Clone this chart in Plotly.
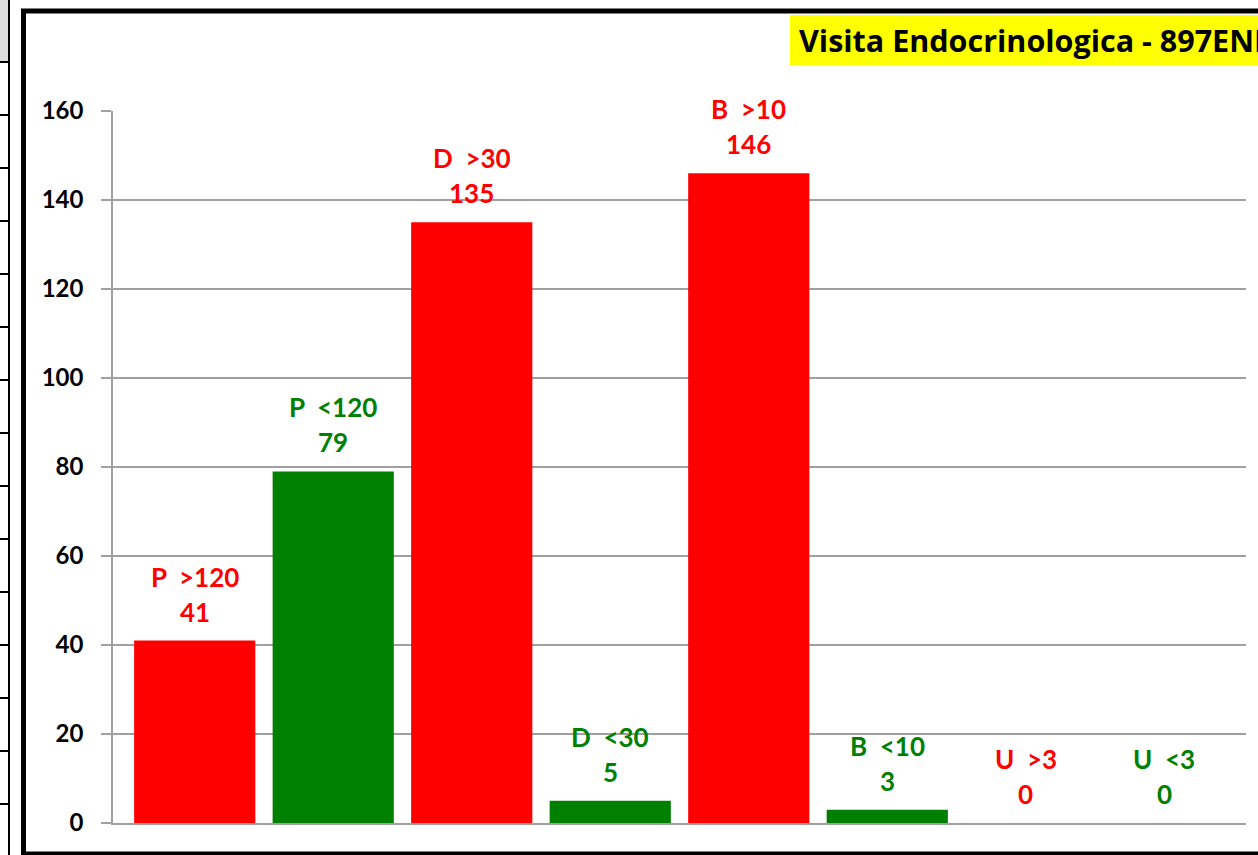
import plotly.graph_objects as go

categories = ["P  >120", "P  <120", "D  >30", "D  <30", "B  >10", "B  <10", "U  >3", "U  <3"]
values = [41, 79, 135, 5, 146, 3, 0, 0]
colors = ["#FF0000", "#008000", "#FF0000", "#008000", "#FF0000", "#008000", "#FF0000", "#008000"]
y_ticks = [0, 20, 40, 60, 80, 100, 120, 140, 160]
title_text = "Visita Endocrinologica - 897ENDO"

OFF = 0  # page body margin removed via post_script
W, H = 1258, 855
L, R, T, B = 113, 12, 111, 32
PW, PH = W - L - R, H - T - B
FONT = "Lato"

def px(xp):
    return (xp - OFF - L) / PW

def py(yp):
    return 1 - (yp - OFF - T) / PH

xs = list(range(len(categories)))

fig = go.Figure(go.Bar(x=xs, y=values, marker=dict(color=colors, line=dict(width=0)),
                       hoverinfo="skip"))

annotations = []
for i, (c, v, col) in enumerate(zip(categories, values, colors)):
    annotations.append(dict(x=i, y=v, xref="x", yref="y", text=f"<b>{v}</b>", showarrow=False,
                            yshift=29, yanchor="middle", font=dict(family=FONT, size=26, color=col)))
    annotations.append(dict(x=i, y=v, xref="x", yref="y", text=f"<b>{c}</b>", showarrow=False,
                            yshift=64, yanchor="middle", font=dict(family=FONT, size=26, color=col)))

# title in yellow box
annotations.append(dict(x=px(797), y=py(40), xref="paper", yref="paper", xanchor="left", yanchor="middle",
                        text=f"<b>{title_text}</b>", showarrow=False,
                        font=dict(family="Open Sans", size=30.5, color="black")))

shapes = []
# yellow title box
shapes.append(dict(type="rect", xref="paper", yref="paper", x0=px(790), x1=px(1400), y0=py(15), y1=py(65),
                   fillcolor="#FFFF00", line=dict(width=0), layer="below"))
# chart outer border
shapes.append(dict(type="rect", xref="paper", yref="paper", x0=px(23.5), x1=px(1400), y0=py(11), y1=py(854),
                   fillcolor="rgba(0,0,0,0)", line=dict(color="black", width=5)))
# spreadsheet strip at left
shapes.append(dict(type="rect", xref="paper", yref="paper", x0=px(-5), x1=px(9), y0=py(-5), y1=py(62),
                   fillcolor="#DCDCDC", line=dict(width=0), layer="below"))
shapes.append(dict(type="line", xref="paper", yref="paper", x0=px(9), x1=px(9), y0=py(-5), y1=py(870),
                   line=dict(color="black", width=2)))
for yy in [62, 115, 168, 221, 274, 327, 380, 433, 486, 539, 592, 645, 698, 751, 804]:
    shapes.append(dict(type="line", xref="paper", yref="paper", x0=px(-5), x1=px(9), y0=py(yy), y1=py(yy),
                       line=dict(color="black", width=2)))

pad = 0.09
fig.update_layout(
    width=W, height=H,
    margin=dict(l=L, r=R, t=T, b=B, pad=0),
    paper_bgcolor="white", plot_bgcolor="white",
    bargap=0.125,
    showlegend=False,
    hovermode=False,
    annotations=annotations,
    shapes=shapes,
    font=dict(family=FONT),
    xaxis=dict(range=[-0.5 - pad, len(categories) - 0.5 + pad], showticklabels=False, showgrid=False,
               zeroline=False, showline=True, linecolor="#A0A0A0", linewidth=1.5, ticks=""),
    yaxis=dict(range=[0, 160], tickvals=y_ticks, showgrid=True, gridcolor="#A0A0A0", gridwidth=1.5,
               zeroline=False, showline=True, linecolor="#A0A0A0", linewidth=1.5,
               ticks="outside", ticklen=10, tickcolor="#A0A0A0", tickwidth=1.5,
               ticklabelstandoff=13,
               tickfont=dict(family=FONT, size=24, color="black", weight="bold")),
)

fig.write_html("out.html", config={"displayModeBar": False},
               post_script="document.body.style.margin='0';document.body.style.overflow='hidden';")
